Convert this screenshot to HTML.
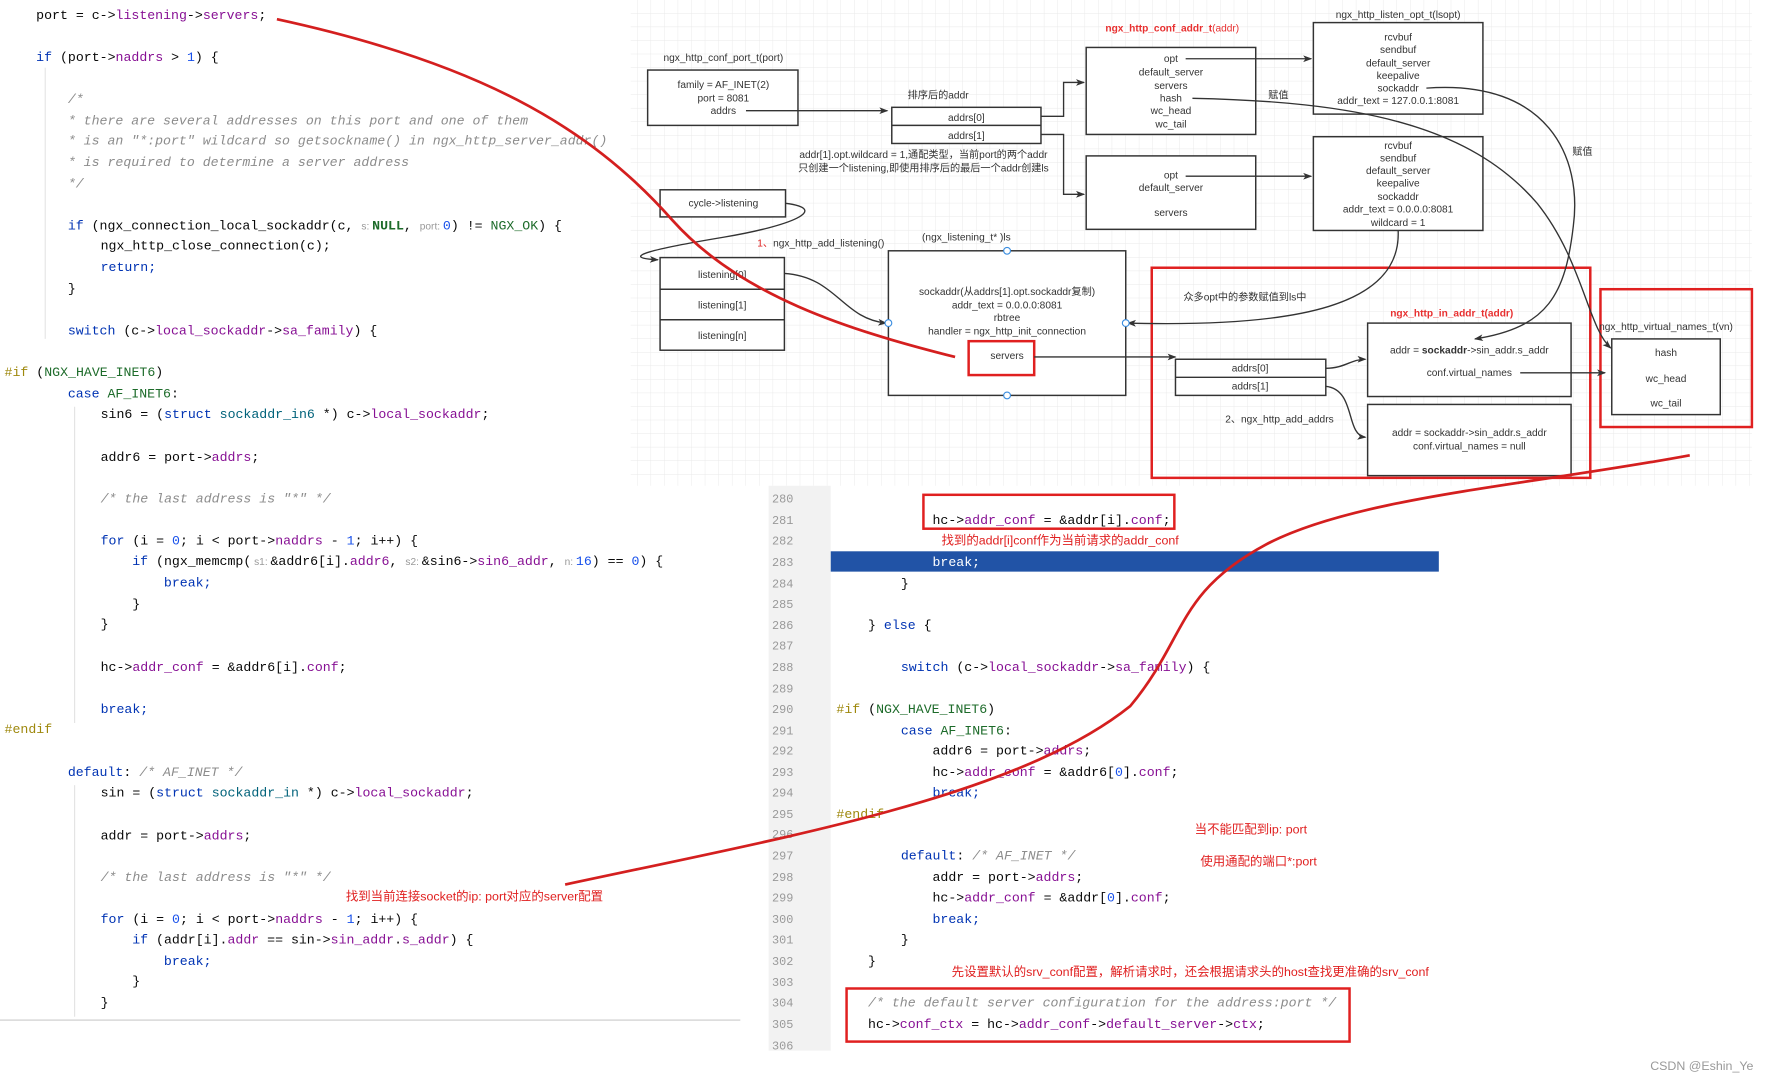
<!DOCTYPE html>
<html><head><meta charset="utf-8"><style>
html,body{margin:0;padding:0;background:#fff;width:1770px;height:1080px;overflow:hidden}
svg{display:block}
.c{font-family:"Liberation Mono",monospace;font-size:11.7px;fill:#080808}
.k{fill:#0033b3}.f{fill:#871094}.t{fill:#00627a}.cm{fill:#8c8c8c;font-style:italic}.pp{fill:#9e880d}.n{fill:#1750eb}.m{fill:#1d6b2a}
.h{font-family:"Liberation Sans",sans-serif;font-size:9px;fill:#999}
.d{font-family:"Liberation Sans","Noto Sans CJK SC",sans-serif;font-size:9px;fill:#333}
.r{font-family:"Liberation Sans","Noto Sans CJK SC",sans-serif;font-size:11px;fill:#e02020}
.ln{font-family:"Liberation Mono",monospace;font-size:10.5px;fill:#999}
</style></head><body>
<svg width="1770" height="1080" viewBox="0 0 1566 956" preserveAspectRatio="none" xmlns="http://www.w3.org/2000/svg">
<defs>
<pattern id="g" width="12" height="12" patternUnits="userSpaceOnUse"><path d="M12 0V12H0" fill="none" stroke="#e9e9e9" stroke-width="0.8"/></pattern>
<marker id="a" markerWidth="8" markerHeight="8" refX="7" refY="4" orient="auto" markerUnits="userSpaceOnUse"><path d="M0,1 L8,4 L0,7 L2,4z" fill="#333"/></marker>
</defs>
<rect x="558" y="0" width="992" height="430" fill="url(#g)"/>
<g class="c" xml:space="preserve">
<text x="32" y="17">port = c-><tspan class="f">listening</tspan>-><tspan class="f">servers</tspan>;</text>
<text x="32" y="54"><tspan class="k">if</tspan> (port-><tspan class="f">naddrs</tspan> > <tspan class="n">1</tspan>) {</text>
<text x="60" y="91" class="cm">/*</text>
<text x="60" y="110" class="cm"> * there are several addresses on this port and one of them</text>
<text x="60" y="128" class="cm"> * is an "*:port" wildcard so getsockname() in ngx_http_server_addr()</text>
<text x="60" y="147" class="cm"> * is required to determine a server address</text>
<text x="60" y="166" class="cm"> */</text>
<text x="60" y="203"><tspan class="k">if</tspan> (ngx_connection_local_sockaddr(c, <tspan class="h"> s: </tspan><tspan font-weight="bold" class="m">NULL</tspan>, <tspan class="h"> port: </tspan><tspan class="n">0</tspan>) != <tspan class="m">NGX_OK</tspan>) {</text>
<text x="89" y="221">ngx_http_close_connection(c);</text>
<text x="89" y="240" class="k">return;</text>
<text x="60" y="259">}</text>
<text x="60" y="296"><tspan class="k">switch</tspan> (c-><tspan class="f">local_sockaddr</tspan>-><tspan class="f">sa_family</tspan>) {</text>
<text x="4" y="333"><tspan class="pp">#if</tspan> (<tspan class="m">NGX_HAVE_INET6</tspan>)</text>
<text x="60" y="352"><tspan class="k">case</tspan> <tspan class="m">AF_INET6</tspan>:</text>
<text x="89" y="370">sin6 = (<tspan class="k">struct</tspan> <tspan class="t">sockaddr_in6</tspan> *) c-><tspan class="f">local_sockaddr</tspan>;</text>
<text x="89" y="408">addr6 = port-><tspan class="f">addrs</tspan>;</text>
<text x="89" y="445" class="cm">/* the last address is "*" */</text>
<text x="89" y="482"><tspan class="k">for</tspan> (i = <tspan class="n">0</tspan>; i &lt; port-><tspan class="f">naddrs</tspan> - <tspan class="n">1</tspan>; i++) {</text>
<text x="117" y="500"><tspan class="k">if</tspan> (ngx_memcmp(<tspan class="h"> s1: </tspan>&amp;addr6[i].<tspan class="f">addr6</tspan>, <tspan class="h"> s2: </tspan>&amp;sin6-><tspan class="f">sin6_addr</tspan>, <tspan class="h"> n: </tspan><tspan class="n">16</tspan>) == <tspan class="n">0</tspan>) {</text>
<text x="145" y="519" class="k">break;</text>
<text x="117" y="538">}</text>
<text x="89" y="556">}</text>
<text x="89" y="594">hc-><tspan class="f">addr_conf</tspan> = &amp;addr6[i].<tspan class="f">conf</tspan>;</text>
<text x="89" y="631" class="k">break;</text>
<text x="4" y="649" class="pp">#endif</text>
<text x="60" y="687"><tspan class="k">default</tspan>: <tspan class="cm">/* AF_INET */</tspan></text>
<text x="89" y="705">sin = (<tspan class="k">struct</tspan> <tspan class="t">sockaddr_in</tspan> *) c-><tspan class="f">local_sockaddr</tspan>;</text>
<text x="89" y="743">addr = port-><tspan class="f">addrs</tspan>;</text>
<text x="89" y="780" class="cm">/* the last address is "*" */</text>
<text x="89" y="817"><tspan class="k">for</tspan> (i = <tspan class="n">0</tspan>; i &lt; port-><tspan class="f">naddrs</tspan> - <tspan class="n">1</tspan>; i++) {</text>
<text x="117" y="835"><tspan class="k">if</tspan> (addr[i].<tspan class="f">addr</tspan> == sin-><tspan class="f">sin_addr</tspan>.<tspan class="f">s_addr</tspan>) {</text>
<text x="145" y="854" class="k">break;</text>
<text x="117" y="872">}</text>
<text x="89" y="891">}</text>
</g>
<g stroke="#e4e4e4" stroke-width="1"><line x1="40" y1="60" x2="40" y2="300"/><line x1="66" y1="360" x2="66" y2="640"/><line x1="66" y1="695" x2="66" y2="900"/></g>
<line x1="0" y1="903" x2="655" y2="903" stroke="#ddd" stroke-width="1.5"/>
<rect x="680" y="430" width="55" height="500" fill="#f2f2f2"/>
<rect x="735" y="488" width="538" height="18" fill="#2153a6"/>
<g class="ln">
<text x="683" y="445">280</text><text x="683" y="464">281</text><text x="683" y="482">282</text><text x="683" y="501">283</text><text x="683" y="520">284</text><text x="683" y="538">285</text><text x="683" y="557">286</text><text x="683" y="575">287</text><text x="683" y="594">288</text><text x="683" y="613">289</text><text x="683" y="631">290</text><text x="683" y="650">291</text><text x="683" y="668">292</text><text x="683" y="687">293</text><text x="683" y="705">294</text><text x="683" y="724">295</text><text x="683" y="742">296</text><text x="683" y="761">297</text><text x="683" y="780">298</text><text x="683" y="798">299</text><text x="683" y="817">300</text><text x="683" y="835">301</text><text x="683" y="854">302</text><text x="683" y="873">303</text><text x="683" y="891">304</text><text x="683" y="910">305</text><text x="683" y="929">306</text>
</g>
<g class="c" xml:space="preserve">
<text x="825" y="464">hc-><tspan class="f">addr_conf</tspan> = &amp;addr[i].<tspan class="f">conf</tspan>;</text>
<text x="825" y="501" style="fill:#fff">break;</text>
<text x="797" y="520">}</text>
<text x="768" y="557">} <tspan class="k">else</tspan> {</text>
<text x="797" y="594"><tspan class="k">switch</tspan> (c-><tspan class="f">local_sockaddr</tspan>-><tspan class="f">sa_family</tspan>) {</text>
<text x="740" y="631"><tspan class="pp">#if</tspan> (<tspan class="m">NGX_HAVE_INET6</tspan>)</text>
<text x="797" y="650"><tspan class="k">case</tspan> <tspan class="m">AF_INET6</tspan>:</text>
<text x="825" y="668">addr6 = port-><tspan class="f">addrs</tspan>;</text>
<text x="825" y="687">hc-><tspan class="f">addr_conf</tspan> = &amp;addr6[<tspan class="n">0</tspan>].<tspan class="f">conf</tspan>;</text>
<text x="825" y="705" class="k">break;</text>
<text x="740" y="724" class="pp">#endif</text>
<text x="797" y="761"><tspan class="k">default</tspan>: <tspan class="cm">/* AF_INET */</tspan></text>
<text x="825" y="780">addr = port-><tspan class="f">addrs</tspan>;</text>
<text x="825" y="798">hc-><tspan class="f">addr_conf</tspan> = &amp;addr[<tspan class="n">0</tspan>].<tspan class="f">conf</tspan>;</text>
<text x="825" y="817" class="k">break;</text>
<text x="797" y="835">}</text>
<text x="768" y="854">}</text>
<text x="768" y="891" class="cm">/* the default server configuration for the address:port */</text>
<text x="768" y="910">hc-><tspan class="f">conf_ctx</tspan> = hc-><tspan class="f">addr_conf</tspan>-><tspan class="f">default_server</tspan>-><tspan class="f">ctx</tspan>;</text>
</g>
<g fill="none" stroke="#e02020" stroke-width="2.2">
<rect x="817" y="438" width="222" height="30"/>
<rect x="749" y="875" width="445" height="47"/>
</g>
<g fill="#fff" stroke="#333" stroke-width="1.3">
<rect x="573" y="62" width="133" height="49"/>
<rect x="789" y="95" width="132" height="32"/>
<rect x="961" y="42" width="150" height="77"/>
<rect x="961" y="138" width="150" height="65"/>
<rect x="1162" y="20" width="150" height="81"/>
<rect x="1162" y="121" width="150" height="83"/>
<rect x="584" y="168" width="111" height="24"/>
<rect x="584" y="228" width="110" height="82"/>
<rect x="786" y="222" width="210" height="128"/>
<rect x="1040" y="318" width="133" height="32"/>
<rect x="1210" y="286" width="180" height="65"/>
<rect x="1210" y="358" width="180" height="63"/>
<rect x="1426" y="300" width="96" height="67"/>
</g>
<g stroke="#333" stroke-width="1.3"><line x1="789" y1="111" x2="921" y2="111"/><line x1="584" y1="256" x2="694" y2="256"/><line x1="584" y1="283" x2="694" y2="283"/><line x1="1040" y1="334" x2="1173" y2="334"/></g>
<g fill="none" stroke="#e02020" stroke-width="2.2">
<rect x="857" y="302" width="58" height="30"/>
<rect x="1019" y="237" width="388" height="186"/>
<rect x="1416" y="256" width="134" height="122"/>
</g>
<g fill="none" stroke="#333" stroke-width="1.2" marker-end="url(#a)">
<path d="M660,98 H785"/>
<path d="M921,103 H941 V73 H959"/>
<path d="M921,119 H941 V172 H959"/>
<path d="M1049,52 H1160"/>
<path d="M1049,156 H1160"/>
<path d="M1055,87 C1200,90 1300,110 1360,180 C1400,230 1405,290 1425,308"/>
<path d="M1262,78 C1370,70 1400,140 1392,200 C1385,260 1370,290 1305,300"/>
<path d="M1237,204 C1240,270 1150,290 998,286"/>
<path d="M695,180 C735,185 700,200 640,210 C580,220 545,228 582,230"/>
<path d="M694,242 C740,245 745,282 784,286"/>
<path d="M915,316 H1040"/>
<path d="M1173,326 C1190,326 1195,318 1208,318"/>
<path d="M1173,342 C1200,345 1190,385 1208,387"/>
<path d="M1345,330 H1420"/>
</g>
<g fill="#fff" stroke="#3b8ee0" stroke-width="1"><circle cx="891" cy="222" r="3"/><circle cx="786" cy="286" r="3"/><circle cx="996" cy="286" r="3"/><circle cx="891" cy="350" r="3"/></g>
<g class="d" text-anchor="middle">
<text x="640" y="54">ngx_http_conf_port_t(port)</text>
<text x="640" y="78">family = AF_INET(2)</text><text x="640" y="90">port = 8081</text><text x="640" y="101">addrs</text>
<text x="830" y="87">排序后的addr</text>
<text x="855" y="107">addrs[0]</text><text x="855" y="123">addrs[1]</text>
<text x="1036" y="55">opt</text><text x="1036" y="67">default_server</text><text x="1036" y="79">servers</text><text x="1036" y="90">hash</text><text x="1036" y="101">wc_head</text><text x="1036" y="113">wc_tail</text>
<text x="1036" y="158">opt</text><text x="1036" y="169">default_server</text><text x="1036" y="191">servers</text>
<text x="1237" y="16">ngx_http_listen_opt_t(lsopt)</text>
<text x="1237" y="36">rcvbuf</text><text x="1237" y="47">sendbuf</text><text x="1237" y="59">default_server</text><text x="1237" y="70">keepalive</text><text x="1237" y="81">sockaddr</text><text x="1237" y="92">addr_text = 127.0.0.1:8081</text>
<text x="1237" y="132">rcvbuf</text><text x="1237" y="143">sendbuf</text><text x="1237" y="154">default_server</text><text x="1237" y="165">keepalive</text><text x="1237" y="177">sockaddr</text><text x="1237" y="188">addr_text = 0.0.0.0:8081</text><text x="1237" y="200">wildcard = 1</text>
<text x="817" y="140">addr[1].opt.wildcard = 1,通配类型，当前port的两个addr</text>
<text x="817" y="152">只创建一个listening,即使用排序后的最后一个addr创建ls</text>
<text x="640" y="183">cycle->listening</text>
<text x="639" y="246">listening[0]</text><text x="639" y="273">listening[1]</text><text x="639" y="300">listening[n]</text>
<text x="855" y="213">(ngx_listening_t* )ls</text>
<text x="891" y="261">sockaddr(从addrs[1].opt.sockaddr复制)</text><text x="891" y="273">addr_text = 0.0.0.0:8081</text><text x="891" y="284">rbtree</text><text x="891" y="296">handler = ngx_http_init_connection</text>
<text x="891" y="318">servers</text>
<text x="1106" y="329">addrs[0]</text><text x="1106" y="345">addrs[1]</text>
<text x="1300" y="313">addr = <tspan font-weight="bold">sockaddr</tspan>->sin_addr.s_addr</text>
<text x="1300" y="333">conf.virtual_names</text>
<text x="1300" y="386">addr = sockaddr->sin_addr.s_addr</text><text x="1300" y="398">conf.virtual_names = null</text>
<text x="1474" y="292">ngx_http_virtual_names_t(vn)</text>
<text x="1474" y="315">hash</text><text x="1474" y="338">wc_head</text><text x="1474" y="360">wc_tail</text>
</g>
<g class="d">
<text x="1122" y="87">赋值</text><text x="1391" y="137">赋值</text>
<text x="1047" y="266">众多opt中的参数赋值到ls中</text>
<text x="1084" y="374">2、ngx_http_add_addrs</text>
<text x="670" y="218"><tspan fill="#e02020">1、</tspan>ngx_http_add_listening()</text>
</g>
<g font-family="Liberation Sans,sans-serif" font-size="9" font-weight="bold" fill="#e83030">
<text x="978" y="28">ngx_http_conf_addr_t<tspan font-weight="normal">(addr)</tspan></text>
<text x="1230" y="280">ngx_http_in_addr_t(addr)</text>
</g>
<g fill="none" stroke="#d41f1f" stroke-width="2.4">
<path d="M245,17 C420,55 520,110 595,195 C655,262 750,292 845,316"/>
<path d="M500,783 C700,740 900,705 1000,625 C1050,565 1040,525 1120,482 C1200,440 1350,430 1495,403"/>
</g>
<g class="r">
<text x="306" y="797">找到当前连接socket的ip: port对应的server配置</text>
<text x="833" y="482">找到的addr[i]conf作为当前请求的addr_conf</text>
<text x="1057" y="738">当不能匹配到ip: port</text>
<text x="1062" y="766">使用通配的端口*:port</text>
<text x="842" y="864">先设置默认的srv_conf配置，解析请求时，还会根据请求头的host查找更准确的srv_conf</text>
</g>
<text x="1460" y="947" font-family="Liberation Sans,sans-serif" font-size="11" fill="#999">CSDN @Eshin_Ye</text>
</svg>
</body></html>
